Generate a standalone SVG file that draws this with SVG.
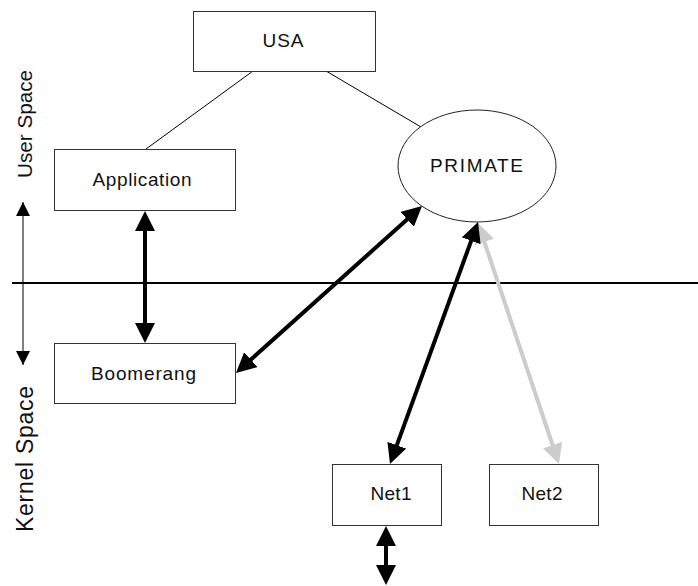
<svg xmlns="http://www.w3.org/2000/svg" width="698" height="586" viewBox="0 0 698 586">
<style>
  .box { fill: #ffffff; stroke: #333333; stroke-width: 1; }
  .lbl { font-family: "Liberation Sans", Arial, sans-serif; font-size: 19px; fill: #111111; text-anchor: middle; }
  .side { font-family: "Liberation Sans", Arial, sans-serif; fill: #111111; text-anchor: middle; }
  .thin { stroke: #000000; stroke-width: 1; fill: none; }
  .thick { stroke: #000000; stroke-width: 4; fill: none; marker-start: url(#headB); marker-end: url(#headB); }
  .grey { stroke: #cccccc; stroke-width: 4; fill: none; marker-start: url(#headG); marker-end: url(#headG); }
</style>
<defs>
  <marker id="headB" markerUnits="userSpaceOnUse" markerWidth="20" markerHeight="20" refX="10" refY="10" orient="auto-start-reverse">
    <path d="M0,0 L20,10 L0,20 z" fill="#000000"/>
  </marker>
  <marker id="headG" markerUnits="userSpaceOnUse" markerWidth="20" markerHeight="20" refX="10" refY="10" orient="auto-start-reverse">
    <path d="M0,0 L20,10 L0,20 z" fill="#cccccc"/>
  </marker>
  <marker id="headT" markerUnits="userSpaceOnUse" markerWidth="14" markerHeight="14" refX="14" refY="7" orient="auto-start-reverse">
    <path d="M0,0 L14,7 L0,14 z" fill="#000000"/>
  </marker>
</defs>

<g id="connectors">
  <line class="thin" x1="253" y1="71" x2="146" y2="149"/>
  <line class="thin" x1="326" y1="71" x2="421" y2="127"/>
  <line x1="12" y1="283" x2="698" y2="283" stroke="#000000" stroke-width="2"/>
  <line x1="23" y1="202" x2="23" y2="365" stroke="#000000" stroke-width="1" marker-start="url(#headT)" marker-end="url(#headT)"/>
  <line class="thick" x1="145" y1="221" x2="145" y2="333"/>
  <line class="thick" x1="243.4" y1="366.3" x2="414.6" y2="212.7"/>
  <line class="grey" x1="555.8" y1="454.5" x2="481.2" y2="232.5"/>
  <line class="thick" x1="393.4" y1="454.6" x2="474.6" y2="231.4"/>
  <line class="thick" x1="386" y1="536" x2="386" y2="575"/>
</g>

<g id="usa">
  <rect class="box" x="193.5" y="11.5" width="182" height="60"/>
  <text class="lbl" x="283" y="47" textLength="41" lengthAdjust="spacing">USA</text>
</g>
<g id="application">
  <rect class="box" x="54.5" y="149.5" width="181" height="61"/>
  <text class="lbl" x="142" y="186" textLength="99" lengthAdjust="spacing">Application</text>
</g>
<g id="primate">
  <ellipse cx="477" cy="166" rx="79" ry="56" fill="#ffffff" stroke="#222222" stroke-width="1"/>
  <text class="lbl" x="476.5" y="172" textLength="93" lengthAdjust="spacing">PRIMATE</text>
</g>
<g id="boomerang">
  <rect class="box" x="54.5" y="343.5" width="181" height="60"/>
  <text class="lbl" x="143.5" y="380" textLength="105" lengthAdjust="spacing">Boomerang</text>
</g>
<g id="net1">
  <rect class="box" x="332.5" y="464.5" width="109" height="61"/>
  <text class="lbl" x="391" y="500" textLength="41" lengthAdjust="spacing">Net1</text>
</g>
<g id="net2">
  <rect class="box" x="489.5" y="464.5" width="109" height="61"/>
  <text class="lbl" x="542" y="500" textLength="41" lengthAdjust="spacing">Net2</text>
</g>

<g id="labels">
  <text class="side" font-size="21" transform="translate(32,124) rotate(-90)" textLength="108" lengthAdjust="spacingAndGlyphs">User Space</text>
  <text class="side" font-size="23" transform="translate(33,459) rotate(-90)" textLength="146" lengthAdjust="spacing">Kernel Space</text>
</g>
</svg>
